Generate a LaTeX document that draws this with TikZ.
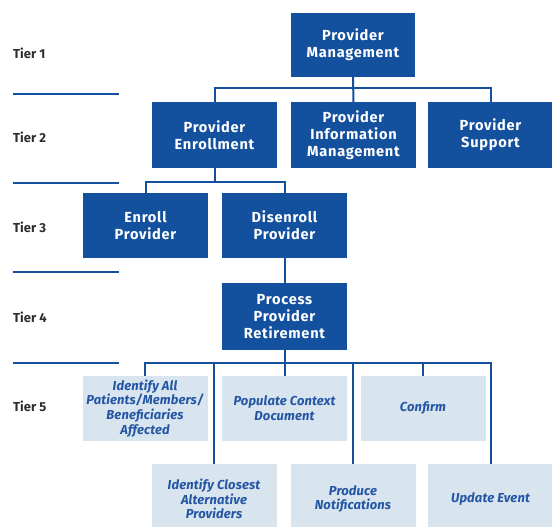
\documentclass[tikz,border=0pt]{standalone}
\usepackage{fontspec}
\setmainfont{Fira Sans}
\newfontfamily\boxfont[LetterSpace=5]{Fira Sans}
\newfontfamily\lightfont[LetterSpace=1]{Fira Sans}
\definecolor{dblue}{HTML}{13509E}
\definecolor{lblue}{HTML}{D8E5EF}
\definecolor{tblue}{HTML}{2456A4}
\definecolor{tiertext}{HTML}{2E2E2E}
\tikzset{
  darkbox/.style={fill=dblue, text=white, minimum width=125pt, minimum height=65pt, inner sep=0pt,
    align=center, font=\boxfont\fontsize{14.6}{17.2}\selectfont\bfseries},
  lightbox/.style={fill=lblue, text=tblue, minimum width=125pt, minimum height=65pt, inner sep=0pt,
    align=center, font=\lightfont\fontsize{13}{14.8}\selectfont\bfseries\itshape},
  tierlabel/.style={anchor=west, text=tiertext, inner sep=0pt, font=\fontsize{13}{15}\selectfont\bfseries},
  tierline/.style={draw=dblue, line width=2.4pt},
  conn/.style={draw=dblue, line width=2pt},
}
\begin{document}
\begin{tikzpicture}[x=1pt, y=-1pt]
\useasboundingbox (0,0) rectangle (552,527);
\fill[white] (0,0) rectangle (552,527);
% tier labels
\node[tierlabel] (t1) at (13,53) {Tier 1};
\node[tierlabel] (t2) at (13,137) {Tier 2};
\node[tierlabel] (t3) at (13,227) {Tier 3};
\node[tierlabel] (t4) at (13,317) {Tier 4};
\node[tierlabel] (t5) at (13,406) {Tier 5};
% tier separator lines
\coordinate (l1a) at (13,94);  \coordinate (l1b) at (119,94);
\coordinate (l2a) at (13,183); \coordinate (l2b) at (119,183);
\coordinate (l3a) at (13,272); \coordinate (l3b) at (119,272);
\coordinate (l4a) at (13,363); \coordinate (l4b) at (119,363);
\draw[tierline] (l1a) -- (l1b);
\draw[tierline] (l2a) -- (l2b);
\draw[tierline] (l3a) -- (l3b);
\draw[tierline] (l4a) -- (l4b);
% boxes
\node[darkbox, minimum width=124pt, minimum height=64pt] (pm) at (353,45) {Provider\\Management};
\node[darkbox] (pe) at (214.5,135) {Provider\\Enrollment};
\node[darkbox] (pim) at (353.5,135) {Provider\\Information\\Management};
\node[darkbox] (ps) at (490.5,135) {Provider\\Support};
\node[darkbox] (ep) at (145.5,225.5) {Enroll\\Provider};
\node[darkbox] (dp) at (284.5,225.5) {Disenroll\\Provider};
\node[darkbox, minimum height=67pt] (ppr) at (284.5,316.5) {Process\\Provider\\Retirement};
\node[lightbox] (ia) at (145,408.5) {Identify All\\Patients/Members/\\Beneficiaries\\Affected};
\node[lightbox] (pc) at (284.5,408.5) {Populate Context\\Document};
\node[lightbox] (cf) at (423,408.5) {Confirm};
\node[lightbox, minimum height=70pt] (ic) at (214,499) {Identify Closest\\Alternative\\Providers};
\node[lightbox, minimum height=70pt] (pn) at (353,499) {Produce\\Notifications};
\node[lightbox, minimum height=70pt] (ue) at (490.5,499) {Update Event};
% buses
\coordinate (b2) at (0,88);
\coordinate (b3) at (0,182);
\coordinate (b5) at (0,363);
\draw[conn] (pm.south) -- (pim.north);
\draw[conn] (pe.north) |- (ps.north |- b2) -- (ps.north);
\draw[conn] (pe.south) -- (pe.south |- b3);
\draw[conn] (ep.north) |- (dp.north |- b3) -- (dp.north);
\draw[conn] (dp.south) -- (ppr.north);
\draw[conn] (ppr.south) -- (pc.north);
\draw[conn] (ia.north) |- (ue.north |- b5) -- (ue.north);
\draw[conn] (ic.north) -- (ic.north |- b5);
\draw[conn] (pn.north) -- (pn.north |- b5);
\draw[conn] (cf.north) -- (cf.north |- b5);
\end{tikzpicture}
\end{document}
